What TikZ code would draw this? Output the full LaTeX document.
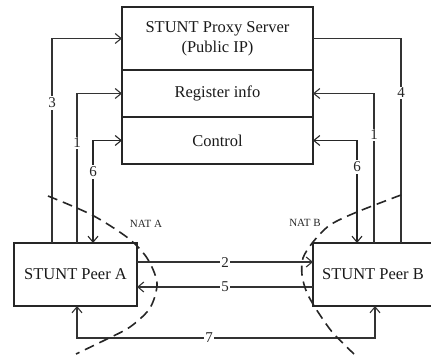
\documentclass[tikz,border=0pt]{standalone}
\usepackage{fontspec}
\setmainfont{Liberation Serif}
\usetikzlibrary{arrows.meta}
\begin{document}
\begin{tikzpicture}[x=1pt,y=-1pt,
  box/.style={draw=black!85, line width=1.8pt, inner sep=0pt, outer sep=0pt,
    font=\fontsize{16.5}{20}\selectfont, align=center, text=black!90},
  conn/.style={draw=black!80, line width=1.8pt},
  thinconn/.style={draw=black!85, line width=1.1pt},
  tip/.style={-{Straight Barb[length=6pt,width=10pt,line width=1.1pt]}},
  bitip/.style={{Straight Barb[length=6pt,width=10pt,line width=1.1pt]}-{Straight Barb[length=6pt,width=10pt,line width=1.1pt]}},
  num/.style={fill=white, inner sep=1.5pt, font=\fontsize{15}{18}\selectfont, text=black!85},
  natlbl/.style={inner sep=0pt, font=\fontsize{11}{13}\selectfont, text=black!85},
  natcurve/.style={draw=black!85, line width=1.6pt, dash pattern=on 10pt off 6pt}]
\useasboundingbox (0,0) rectangle (431,355);
\clip (0,0) rectangle (431,355);

% server
\node[box, minimum width=191pt, minimum height=63pt] (srvTop) at (217.5,38.5) {STUNT Proxy Server\\(Public IP)};
\node[box, minimum width=191pt, minimum height=47pt] (srvReg) at (217.5,93.5) {Register info};
\node[box, minimum width=191pt, minimum height=47pt] (srvCtl) at (217.5,140.5) {Control};

% peers
\node[box, minimum width=123pt, minimum height=63pt] (peerA) at (75.5,274.5) {STUNT Peer A};
\node[box, minimum width=120pt, minimum height=63pt] (peerB) at (373,274.5) {STUNT Peer B};

% helper coordinates
\coordinate (c3) at (52,0);
\coordinate (c1) at (77,0);
\coordinate (c6) at (93,0);
\coordinate (c4) at (401,0);
\coordinate (c1r) at (374,0);
\coordinate (c6r) at (357,0);
\coordinate (y2) at (0,262);
\coordinate (y5) at (0,287);
\coordinate (y7) at (0,338);
\coordinate (c7a) at (77,0);
\coordinate (c7b) at (375,0);

% connectors
\draw[conn, tip] (peerA.north -| c3) |- (srvTop.west);
\draw[conn, tip] (peerA.north -| c1) |- (srvReg.west);
\draw[thinconn, bitip] (peerA.north -| c6) |- (srvCtl.west);
\draw[conn] (srvTop.east) -| (peerB.north -| c4);
\draw[conn, tip] (peerB.north -| c1r) |- (srvReg.east);
\draw[thinconn, bitip] (peerB.north -| c6r) |- (srvCtl.east);
\draw[conn, tip] (peerA.east |- y2) -- (peerB.west |- y2);
\draw[conn, tip] (peerB.west |- y5) -- (peerA.east |- y5);
\draw[conn, bitip] (peerA.south -| c7a) |- (c7b |- y7) -- (peerB.south -| c7b);

% labels
\node[num] (l3) at (52,103) {3};
\node[num] (l1) at (77,143) {1};
\node[num] (l6) at (93,172) {6};
\node[num] (l4) at (401,93) {4};
\node[num] (l1r) at (374,135) {1};
\node[num] (l6r) at (357,167) {6};
\node[num] (l2) at (225,263) {2};
\node[num] (l5) at (225,287) {5};
\node[num] (l7) at (209,338) {7};

% NAT curves
\draw[natcurve] plot[smooth] coordinates {(48,196) (92,215) (128,238) (147,258) (157,283) (150,308) (130,327) (105,340) (76,354)};
\draw[natcurve] plot[smooth] coordinates {(401,195) (357,212) (330,225) (313,242) (303,258) (302,275) (307,293) (318,312) (333,333) (354,354)};
\node[natlbl] (natA) at (146,224) {NAT A};
\node[natlbl] (natB) at (305,223) {NAT B};
\end{tikzpicture}
\end{document}
